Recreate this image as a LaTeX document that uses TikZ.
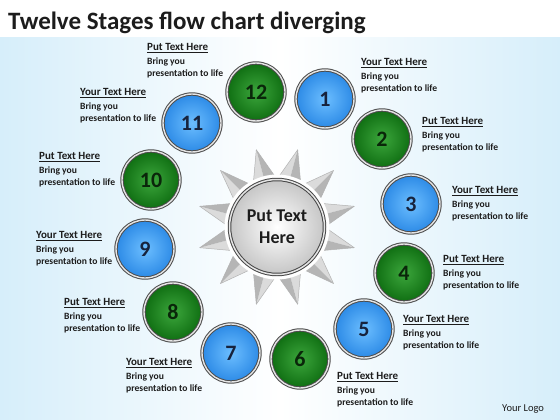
\documentclass[tikz,border=0pt]{standalone}
\usepackage{fontspec}
\setmainfont{Carlito}
\definecolor{bgblue}{HTML}{D6EEFA}
\definecolor{inkgray}{HTML}{1C1C1C}
\definecolor{blueA}{HTML}{6CBEFF}
\definecolor{blueB}{HTML}{2C8AE6}
\definecolor{greenA}{HTML}{3CA63C}
\definecolor{greenB}{HTML}{0F6E12}
\definecolor{numblue}{HTML}{17233D}
\definecolor{numgreen}{HTML}{0A260A}
\begin{document}
\begin{tikzpicture}[x=1pt,y=-1pt,line join=round,line cap=round,
	ball/.style={circle,minimum size=58,inner sep=0,draw=gray!60!black,line width=1pt,
		double=gray!20,double distance=1.4pt,font=\bfseries\fontsize{22}{22}\selectfont},
	blueball/.style={ball,inner color=blueA,outer color=blueB,text=numblue},
	greenball/.style={ball,inner color=greenA,outer color=greenB,text=numgreen},
	note/.style={anchor=north west,inner sep=0,align=left,text=inkgray,
		font=\bfseries\fontsize{9.6}{12}\selectfont}]
		\def\your{{\fontsize{11}{12}\selectfont\underline{Your Text Here}}\\[2pt]Bring you\\presentation to life}
		\def\put{{\fontsize{11}{12}\selectfont\underline{Put Text Here}}\\[2pt]Bring you\\presentation to life}
		\useasboundingbox (0,0) rectangle (560,420);
		\fill[white] (0,0) rectangle (560,420);
		\shade[left color=bgblue,right color=bgblue,middle color=white] (0,38) rectangle (560,420);
		\node[anchor=base west,inner sep=0,text=inkgray,font=\bfseries\fontsize{25}{30}\selectfont] (title) at (8,30) {Twelve Stages flow chart diverging};
		\begin{scope}[shift={(277,227)}]
		\foreach \a in {15,45,...,345}{
			\fill[gray!28] (\a:80) -- (\a-12.5:51) -- (\a:51) -- cycle;
			\fill[gray!58] (\a:80) -- (\a:51) -- (\a+12.5:51) -- cycle;
			\draw[gray!60,line width=0.5pt] (\a-12.5:51) -- (\a:80) -- (\a+12.5:51);
		}
		\end{scope}
		\node[circle,minimum size=105,inner sep=0,fill=white] (ring) at (277,227) {};
		\node[circle,minimum size=95,inner sep=0,inner color=white,outer color=gray!45,draw=gray!55!black,
			line width=1pt,double=gray!20,double distance=1.5pt,align=center,text=inkgray,
			font=\bfseries\fontsize{18}{22}\selectfont] (hub) at (277,227) {Put Text\\Here};
		\node[greenball] (s12) at (256,92) {12};
		\node[blueball] (s11) at (192,123) {11};
		\node[greenball] (s10) at (151,180) {10};
		\node[blueball] (s9) at (145,249) {9};
		\node[greenball] (s8) at (173,312) {8};
		\node[blueball] (s7) at (231,353) {7};
		\node[greenball] (s6) at (300,359) {6};
		\node[blueball] (s5) at (364,329) {5};
		\node[greenball] (s4) at (404,273) {4};
		\node[blueball] (s3) at (411,204) {3};
		\node[greenball] (s2) at (382,139) {2};
		\node[blueball] (s1) at (325,99) {1};
		\node[note] (t12) at (147,43.5) {\put};
		\node[note] (t1) at (361,58.5) {\your};
		\node[note] (t2) at (422,117.5) {\put};
		\node[note] (t3) at (452,186.5) {\your};
		\node[note] (t4) at (443,255.5) {\put};
		\node[note] (t5) at (403,315.5) {\your};
		\node[note] (t6) at (337,372.5) {\put};
		\node[note] (t7) at (126,358.5) {\your};
		\node[note] (t8) at (64,298.5) {\put};
		\node[note] (t9) at (36,231.5) {\your};
		\node[note] (t10) at (39,152.5) {\put};
		\node[note] (t11) at (80,88.5) {\your};
		\node[anchor=base west,inner sep=0,text=inkgray,font=\fontsize{10.5}{12}\selectfont] (logo) at (502,411) {Your Logo};
		\end{tikzpicture}
\end{document}
